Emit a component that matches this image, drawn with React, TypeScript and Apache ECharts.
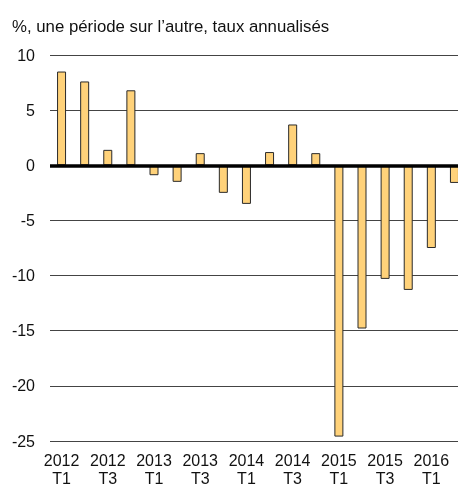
import React, { useEffect, useRef } from "react";
import * as echarts from "echarts";

const years = ["2012", "2012", "2012", "2012", "2013", "2013", "2013", "2013", "2014", "2014", "2014", "2014", "2015", "2015", "2015", "2015", "2016", "2016"];
const quarters = ["T1", "T2", "T3", "T4", "T1", "T2", "T3", "T4", "T1", "T2", "T3", "T4", "T1", "T2", "T3", "T4", "T1", "T2"];
const values = [8.5, 7.6, 1.4, 6.8, -0.9, -1.5, 1.1, -2.5, -3.5, 1.2, 3.7, 1.1, -24.6, -14.8, -10.3, -11.3, -7.5, -1.6];
const categories = years.map((y, i) => y + " " + quarters[i]);
const titleText = "%, une période sur l’autre, taux annualisés";

const FONT = "'Liberation Sans', Arial, sans-serif";

export default function App() {
  const ref = useRef<HTMLDivElement>(null);
  useEffect(() => {
    if (!ref.current) return;
    const chart = echarts.init(ref.current, undefined, { renderer: "svg" });
    chart.setOption({
      animation: false,
      title: {
        text: titleText,
        left: 12,
        top: 18,
        padding: 0,
        textStyle: { fontFamily: FONT, fontSize: 16.8, fontWeight: "normal", color: "#111" },
      },
      grid: { left: 50, top: 55, right: 0, height: 388, containLabel: false },
      xAxis: {
        type: "category",
        data: categories,
        axisLine: { show: false },
        axisTick: { show: false },
        axisLabel: {
          interval: 1,
          margin: 10,
          lineHeight: 18,
          fontFamily: FONT,
          fontSize: 16,
          color: "#111",
          formatter: (v: string) => v.replace(" ", "\n"),
        },
      },
      yAxis: {
        type: "value",
        min: -25,
        max: 10,
        interval: 5,
        axisLine: { show: false },
        axisTick: { show: false },
        axisLabel: { margin: 15, fontFamily: FONT, fontSize: 16, color: "#111" },
        splitLine: { lineStyle: { color: "#444", width: 1 } },
      },
      series: [
        {
          type: "bar",
          data: values,
          barWidth: 9,
          itemStyle: { color: "#FFD27A", borderColor: "#2a2a2a", borderWidth: 1 },
          markLine: {
            silent: true,
            symbol: "none",
            label: { show: false },
            lineStyle: { color: "#000", width: 3.5, type: "solid" },
            data: [{ yAxis: 0 }],
          },
        },
      ],
    });
    return () => chart.dispose();
  }, []);
  return <div ref={ref} style={{ position: "fixed", left: 0, top: 0, width: 466, height: 487 }} />;
}
